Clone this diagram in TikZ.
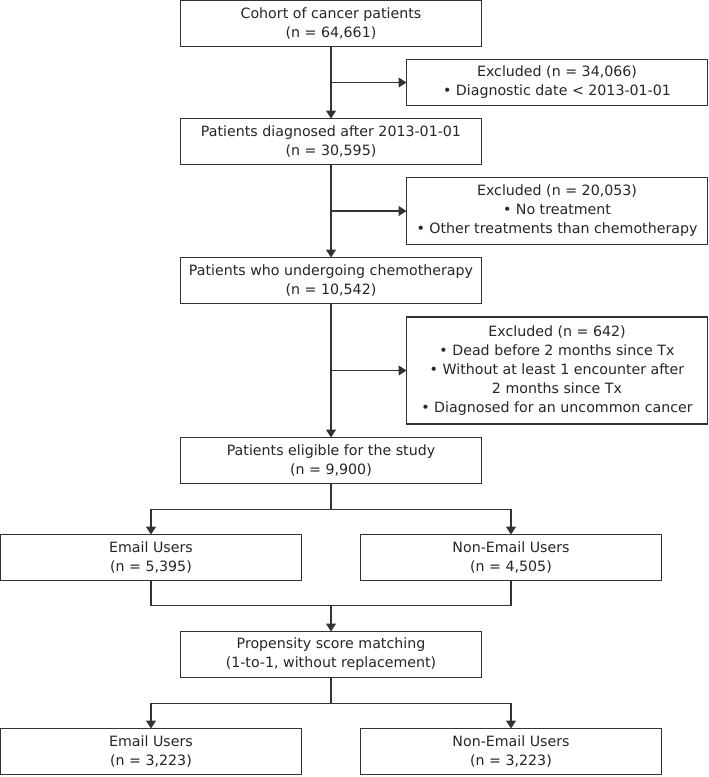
\documentclass[tikz,border=0pt]{standalone}
\usepackage{fontspec}
\setmainfont{DejaVu Sans}
\usepackage{tikz}
\usetikzlibrary{positioning, arrows.meta, calc}

\begin{document}
\begin{tikzpicture}[x=1pt,y=1pt,->,>={Triangle[length=8pt,width=10pt]},line width=1.1pt,draw=black!80,font=\fontsize{14.2pt}{19pt}\selectfont]
\tikzstyle{box}=[draw=black!80,fill=white,text=black!85,rectangle,minimum width=301pt,minimum height=46pt,align=center,inner sep=2pt,outer sep=0pt]
\tikzstyle{excl}=[box]
\useasboundingbox (0,0) rectangle (709,-777);

\node[box] (cohort) at (331,-23.5) {Cohort of cancer patients\\(n = 64,661)};
\node[box] (diag) [below=72pt of cohort] {Patients diagnosed after 2013-01-01\\(n = 30,595)};
\node[box] (chemo) [below=93pt of diag] {Patients who undergoing chemotherapy\\(n = 10,542)};
\node[box] (elig) [below=134pt of chemo] {Patients eligible for the study\\(n = 9,900)};
\node[box] (email) [below=51pt of elig, xshift=-180pt] {Email Users\\(n = 5,395)};
\node[box] (nonemail) [below=51pt of elig, xshift=180pt] {Non-Email Users\\(n = 4,505)};
\node[box] (psm) [below=51pt of email, xshift=180pt] {Propensity score matching\\(1-to-1, without replacement)};
\node[box] (emailm) [below=51pt of psm, xshift=-180pt] {Email Users\\(n = 3,223)};
\node[box] (nonemailm) [below=51pt of psm, xshift=180pt] {Non-Email Users\\(n = 3,223)};

\coordinate (m1) at ($(cohort.south)!.5!(diag.north)$);
\coordinate (m2) at ($(diag.south)!.5!(chemo.north)$);
\coordinate (m3) at ($(chemo.south)!.5!(elig.north)$);
\node[excl, minimum height=46pt, right=75.5pt of m1] (ex1) {Excluded (n = 34,066)\\\textbullet{} Diagnostic date < 2013-01-01};
\node[excl, minimum height=67pt, right=75.5pt of m2] (ex2) {Excluded (n = 20,053)\\\textbullet{} No treatment\\\textbullet{} Other treatments than chemotherapy};
\node[excl, minimum height=107pt, right=75.5pt of m3] (ex3) {Excluded (n = 642)\\\textbullet{} Dead before 2 months since Tx\\\textbullet{} Without at least 1 encounter after\\2 months since Tx\\\textbullet{} Diagnosed for an uncommon cancer};

\draw (cohort.south) -- (diag.north);
\draw (diag.south) -- (chemo.north);
\draw (chemo.south) -- (elig.north);
\draw (m1) -- (ex1.west);
\draw (m2) -- (ex2.west);
\draw (m3) -- (ex3.west);

\draw[-] (elig.south) -- ++(0,-26) coordinate (s1);
\draw (s1) -| (email.north);
\draw (s1) -| (nonemail.north);
\draw[-] (email.south) -- ++(0,-25) coordinate (j1) -| (nonemail.south);
\draw (j1 -| psm.north) -- (psm.north);
\draw[-] (psm.south) -- ++(0,-26) coordinate (s2);
\draw (s2) -| (emailm.north);
\draw (s2) -| (nonemailm.north);
\end{tikzpicture}
\end{document}
